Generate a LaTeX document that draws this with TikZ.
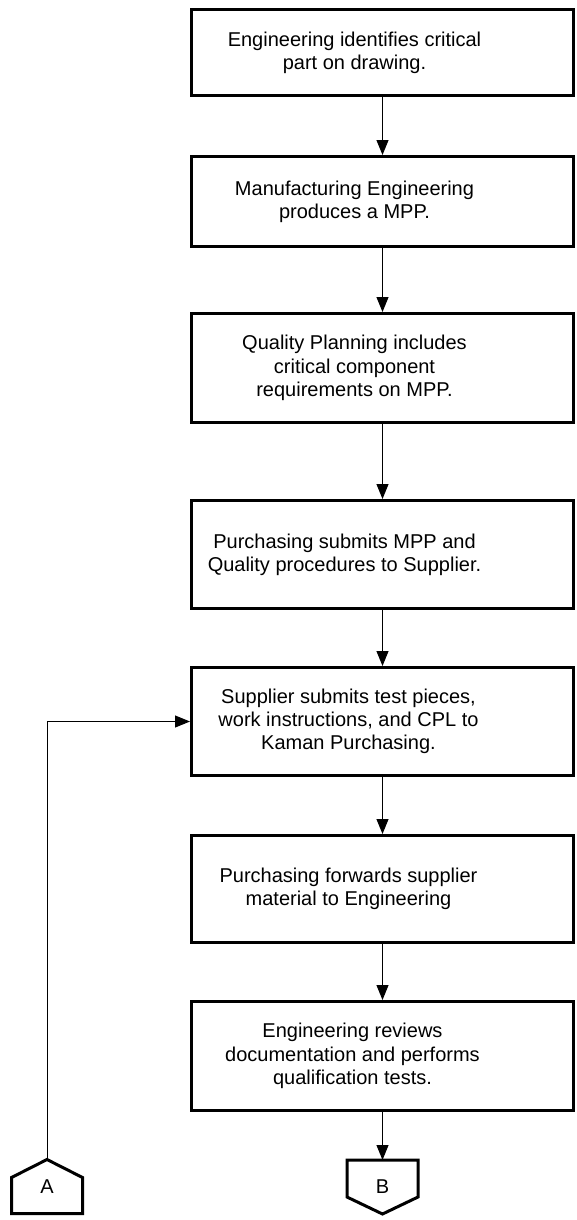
\documentclass[tikz,border=0pt]{standalone}
\usepackage{fontspec}
\setmainfont{Liberation Sans}
\usetikzlibrary{arrows.meta, positioning, calc}

\begin{document}
\begin{tikzpicture}[x=1pt, y=-1pt,
    stepbox/.style={draw, line width=3pt, minimum width=382pt, inner sep=0pt},
    steptext/.style={align=center, inner sep=0pt, font=\fontsize{20pt}{23.3pt}\selectfont},
    conn/.style={minimum width=71pt, minimum height=54pt, inner sep=0pt, outer sep=0pt,
      font=\fontsize{20pt}{23.3pt}\selectfont},
    flow/.style={line width=1pt, -{Triangle[length=15pt, width=12pt]}}]
  \useasboundingbox (0,0) rectangle (577,1220);
  % process boxes
  \node[stepbox, minimum height=86pt]  (b1) at (382.5,52.5) {};
  \node[stepbox, minimum height=90pt]  (b2) at (382.5,201.5) {};
  \node[stepbox, minimum height=109pt] (b3) at (382.5,368) {};
  \node[stepbox, minimum height=108pt] (b4) at (382.5,554.5) {};
  \node[stepbox, minimum height=108pt] (b5) at (382.5,721.5) {};
  \node[stepbox, minimum height=107pt] (b6) at (382.5,889) {};
  \node[stepbox, minimum height=109pt] (b7) at (382.5,1056) {};
  \node[steptext] (t1) at ([xshift=-28pt]b1.center) {Engineering identifies critical\\part on drawing.};
  \node[steptext] (t2) at ([xshift=-28pt]b2.center) {Manufacturing Engineering\\produces a MPP.};
  \node[steptext] (t3) at ([xshift=-28pt]b3.center) {Quality Planning includes\\critical component\\requirements on MPP.};
  \node[steptext] (t4) at ([xshift=-38pt]b4.center) {Purchasing submits MPP and\\Quality procedures to Supplier.};
  \node[steptext] (t5) at ([xshift=-34pt]b5.center) {Supplier submits test pieces,\\work instructions, and CPL to\\Kaman Purchasing.};
  \node[steptext] (t6) at ([xshift=-34pt]b6.center) {Purchasing forwards supplier\\material to Engineering};
  \node[steptext] (t7) at ([xshift=-30pt]b7.center) {Engineering reviews\\documentation and performs\\qualification tests.};
  % off-page connectors
  \node[conn] (A) at (47,1186.5) {A};
  \node[conn] (B) at (382.5,1187) {B};
  \draw[line width=3pt] (A.south west) -- ([yshift=-18pt]A.north west) -- (A.north)
    -- ([yshift=-18pt]A.north east) -- (A.south east) -- cycle;
  \draw[line width=3pt] (B.north west) -- (B.north east) -- ([yshift=17pt]B.south east)
    -- (B.south) -- ([yshift=17pt]B.south west) -- cycle;
  % flow
  \foreach \i [count=\j from 2] in {1,...,6}
    \draw[flow] (b\i) -- (b\j);
  \draw[flow] (b7) -- (B);
  \draw[flow] (A.north) |- (b5.west);
\end{tikzpicture}
\end{document}
